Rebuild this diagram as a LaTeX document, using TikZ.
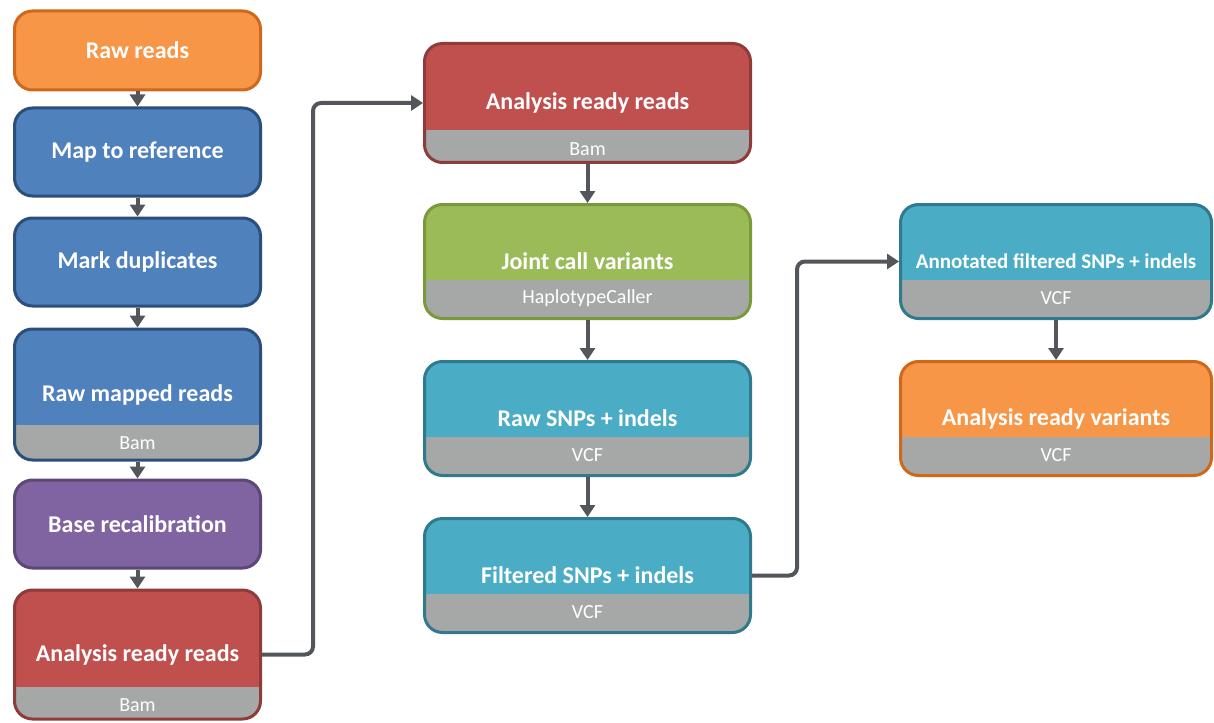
\documentclass[tikz,border=0pt]{standalone}
\usepackage{fontspec}
\setmainfont{Carlito}
\usepackage{xcolor}
\usepackage{tikz}
\usetikzlibrary{positioning, arrows.meta, calc}
\definecolor{orangeFill}{HTML}{F79646}
\definecolor{orangeLine}{HTML}{D0681C}
\definecolor{blueFill}{HTML}{4F81BD}
\definecolor{blueLine}{HTML}{2C4E7B}
\definecolor{purpleFill}{HTML}{8064A2}
\definecolor{purpleLine}{HTML}{5C4776}
\definecolor{redFill}{HTML}{C0504D}
\definecolor{redLine}{HTML}{8E3B39}
\definecolor{greenFill}{HTML}{9BBB59}
\definecolor{greenLine}{HTML}{7A9A3A}
\definecolor{tealFill}{HTML}{4BACC6}
\definecolor{tealLine}{HTML}{2F7A8C}
\definecolor{bandGray}{HTML}{A5A8A6}
\definecolor{arrowGray}{HTML}{53575C}

\begin{document}
\begin{tikzpicture}[x=1pt,y=1pt,node distance=17pt]
      \tikzset{stage/.style={rounded corners=18pt,line width=3pt,text=white,minimum width=246pt,minimum height=88pt,inner sep=0pt,font=\fontsize{24}{28}\selectfont\bfseries}, wide/.style={stage,minimum width=326pt,minimum height=114pt}, banded/.style={path picture={\fill[bandGray,sharp corners] ([yshift=#1]path picture bounding box.south west) rectangle (path picture bounding box.south east);}}, fmt/.style={text=white,inner sep=0pt,font=\fontsize{20}{24}\selectfont}, flow/.style={draw=arrowGray,line width=4pt,-{Triangle[width=15pt,length=12pt]}}}
      \fill[white] (0,0) rectangle (1214,-722);
      \useasboundingbox (0,0) rectangle (1214,-722);
      % left column
      \node[stage,minimum height=79pt,fill=orangeFill,draw=orangeLine] (raw) at (137.5,-50.5) {Raw reads};
      \node[stage,fill=blueFill,draw=blueLine,below=15pt of raw] (map) {Map to reference};
      \node[stage,fill=blueFill,draw=blueLine,below=19pt of map] (dup) {Mark duplicates};
      \node[stage,banded=35pt,minimum height=131pt,fill=blueFill,draw=blueLine,below=20pt of dup] (rmr) {Raw mapped reads};
      \node[fmt] (rmrfmt) at ([yshift=18pt]rmr.south) {Bam};
      \node[stage,fill=purpleFill,draw=purpleLine,below=17pt of rmr] (bqsr) {Base recalibration};
      \node[stage,banded=32pt,minimum height=129pt,fill=redFill,draw=redLine,below=19pt of bqsr] (arr) {Analysis ready reads};
      \node[fmt] (arrfmt) at ([yshift=15pt]arr.south) {Bam};
      % middle column
      \node[wide,banded=32pt,minimum height=119pt,fill=redFill,draw=redLine] (arr2) at (587.5,-103) {Analysis ready reads};
      \node[fmt] (arr2fmt) at ([yshift=15pt]arr2.south) {Bam};
      \node[wide,banded=39pt,fill=greenFill,draw=greenLine,below=39pt of arr2] (jcv) {Joint call variants};
      \node[fmt] (jcvfmt) at ([yshift=22pt]jcv.south) {HaplotypeCaller};
      \node[wide,banded=39pt,fill=tealFill,draw=tealLine,below=40pt of jcv] (snp) {Raw SNPs + indels};
      \node[fmt] (snpfmt) at ([yshift=22pt]snp.south) {VCF};
      \node[wide,banded=39pt,fill=tealFill,draw=tealLine,below=40pt of snp] (filt) {Filtered SNPs + indels};
      \node[fmt] (filtfmt) at ([yshift=22pt]filt.south) {VCF};
      % right column
      \node[wide,banded=39pt,minimum width=311pt,fill=tealFill,draw=tealLine,right=147pt of jcv,font=\fontsize{21}{25}\selectfont\bfseries] (ann) {Annotated filtered SNPs + indels};
      \node[fmt] (annfmt) at ([yshift=22pt]ann.south) {VCF};
      \node[wide,banded=39pt,minimum width=311pt,fill=orangeFill,draw=orangeLine,below=40pt of ann] (arv) {Analysis ready variants};
      \node[fmt] (arvfmt) at ([yshift=22pt]arv.south) {VCF};
      % connectors
      \draw[flow] (raw) -- (map);
      \draw[flow] (map) -- (dup);
      \draw[flow] (dup) -- (rmr);
      \draw[flow] (rmr) -- (bqsr);
      \draw[flow] (bqsr) -- (arr);
      \draw[flow,rounded corners=8pt] (arr.east) -- ++(51,0) |- (arr2.west);
      \draw[flow] (arr2) -- (jcv);
      \draw[flow] (jcv) -- (snp);
      \draw[flow] (snp) -- (filt);
      \draw[flow,rounded corners=8pt] (filt.east) -- ++(45,0) |- (ann.west);
      \draw[flow] (ann) -- (arv);
    \end{tikzpicture}
\end{document}
